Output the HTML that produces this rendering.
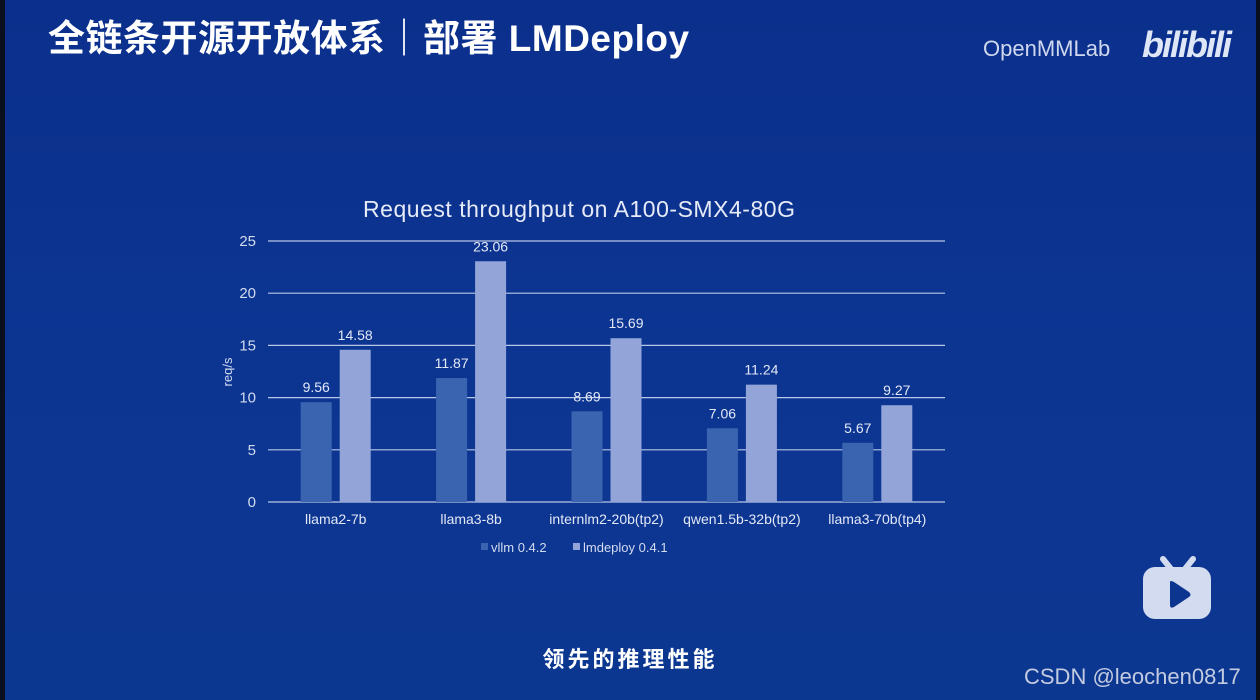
<!DOCTYPE html>
<html><head><meta charset="utf-8"><style>
html,body{margin:0;padding:0;}
body{width:1260px;height:700px;overflow:hidden;position:relative;font-family:"Liberation Sans","Noto Sans CJK SC",sans-serif;
background:linear-gradient(180deg,#0b2f8c 0%,#0c3592 50%,#0c3790 100%);}
.bl{position:absolute;top:0;left:0;width:5px;height:700px;background:#0a0f1e;}
.br{position:absolute;top:0;right:0;width:4px;height:700px;background:#0a0f1e;}
.tt{position:absolute;left:48px;top:8px;color:#fff;font-size:37px;font-weight:bold;letter-spacing:0.5px;}
.lg{position:absolute;left:983px;top:36px;color:#cfd8ee;font-size:22px;}
.bili{position:absolute;left:1142px;top:24px;color:#dfe6f5;font-size:36px;font-weight:bold;font-style:italic;letter-spacing:-2px;}
.sub{position:absolute;left:0;width:1260px;top:642px;text-align:center;color:#fff;font-size:22px;font-weight:bold;letter-spacing:3px;}
.csdn{position:absolute;left:1024px;top:664px;color:#c3cbe0;font-size:22px;}
.tv{position:absolute;left:1143px;top:555px;}
</style></head><body>
<div class="bl"></div>
<div class="br"></div>
<div class="tt">全链条开源开放体系｜部署 LMDeploy</div>
<div class="lg">OpenMMLab</div>
<div class="bili">bilibili</div>
<svg id="chart" width="1260" height="700" style="position:absolute;left:0;top:0"></svg>
<svg class="tv" width="70" height="66">
<line x1="20" y1="4" x2="28" y2="14" stroke="#d2dbef" stroke-width="6" stroke-linecap="round"/>
<line x1="50" y1="4" x2="42" y2="14" stroke="#d2dbef" stroke-width="6" stroke-linecap="round"/>
<rect x="0" y="12" width="68" height="52" rx="12" fill="#d2dbef"/>
<path d="M27 27 L27 50 Q27 54 31 52 L46 42 Q49 40 46 37 L31 27 Q27 25 27 27Z" fill="#0c3590"/>
</svg>
<div class="sub">领先的推理性能</div>
<div class="csdn">CSDN @leochen0817</div>
<script>
const categories=["llama2-7b","llama3-8b","internlm2-20b(tp2)","qwen1.5b-32b(tp2)","llama3-70b(tp4)"];
const vllm=[9.56,11.87,8.69,7.06,5.67];
const lmdeploy=[14.58,23.06,15.69,11.24,9.27];
const yTicks=[0,5,10,15,20,25];
const seriesNames=["vllm 0.4.2","lmdeploy 0.4.1"];
const NS="http://www.w3.org/2000/svg";
const svg=document.getElementById('chart');
const X0=268,X1=945,Y0=502,Y1=241,YMAX=25;
const band=(X1-X0)/categories.length;
const y=v=>Y0-(v/YMAX)*(Y0-Y1);
const xc=i=>X0+band*(i+0.5);
function mk(t,a,txt){const e=document.createElementNS(NS,t);for(const k in a)e.setAttribute(k,a[k]);if(txt!==undefined)e.textContent=txt;svg.appendChild(e);return e;}
let e=mk('text',{x:579,y:217,'text-anchor':'middle',fill:'#e6ebf7','font-size':23,'textLength':432,'font-family':'Liberation Sans, sans-serif'},'Request throughput on A100-SMX4-80G');


yTicks.forEach(t=>{
 let l=mk('line',{x1:X0,x2:X1,y1:y(t),y2:y(t),stroke:'#b9c6e6','stroke-width':1.2});
 
 
 let tx=mk('text',{x:256,y:y(t)+5,'text-anchor':'end',fill:'#d3dbef','font-size':15,'font-family':'Liberation Sans, sans-serif'},String(t));
 
 
});
e=mk('text',{x:232,y:372,'text-anchor':'middle',fill:'#d3dbef','font-size':13,transform:'rotate(-90 232 372)','font-family':'Liberation Sans, sans-serif'},'req/s');


const BW=31;
categories.forEach((c,i)=>{
 const cx=xc(i);
 [[vllm[i],cx-35,'#3b64b0','vllm'],[lmdeploy[i],cx+4,'#93a5d8','lmdeploy']].forEach(([v,bx,col,nm])=>{
  let r=mk('rect',{x:bx,y:y(v),width:BW,height:Y0-y(v),fill:col});
  
  
  let t=mk('text',{x:bx+BW/2,y:y(v)-10,'text-anchor':'middle',fill:'#e3e8f6','font-size':14,'font-family':'Liberation Sans, sans-serif'},v.toFixed(2));
  
  
 });
 let t=mk('text',{x:cx,y:524,'text-anchor':'middle',fill:'#e3e8f6','font-size':14,'font-family':'Liberation Sans, sans-serif'},c);
 
 
});
const lx=[481,573],lc=['#3b64b0','#93a5d8'];
seriesNames.forEach((n,i)=>{
 let r=mk('rect',{x:lx[i],y:543,width:7,height:7,fill:lc[i]});
 
 
 let t=mk('text',{x:lx[i]+10,y:552,fill:'#d3dbef','font-size':13,'font-family':'Liberation Sans, sans-serif'},n);
 
 
});
</script>
</body></html>
